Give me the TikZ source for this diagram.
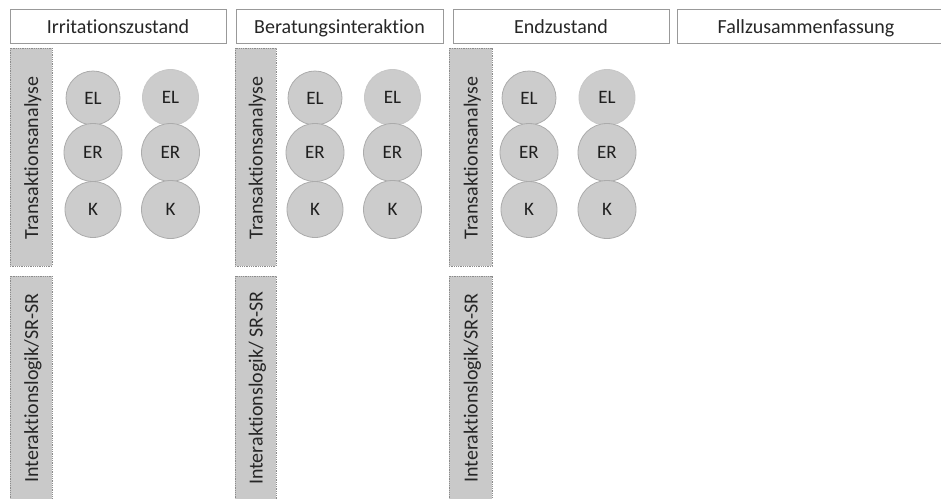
\documentclass[tikz,border=0pt]{standalone}
\usepackage{fontspec}
\setmainfont{Carlito}[Ligatures={NoCommon}]
\begin{document}
\begin{tikzpicture}[x=1pt,y=-1pt,
  hdr/.style={draw=black!40,line width=0.8pt,fill=white},
  hdrtext/.style={anchor=base,inner sep=0pt,text=black!85,font=\fontsize{20}{22}\selectfont},
  bar/.style={draw=black!45,densely dotted,line width=0.8pt,fill=black!21},
  bartext/.style={rotate=90,inner sep=0pt,text depth=0pt,text height=14pt,text=black!85,font=\fontsize{20}{22}\selectfont},
  ego/.style={circle,draw=black!33,line width=0.8pt,fill=black!20,text=black!88,inner sep=0pt,font=\fontsize{19}{21}\selectfont},
  egob/.style={ego,draw=black!22,fill=black!20}]
\useasboundingbox (0,0) rectangle (941,498);
\clip (0,0) rectangle (941,498);
% headers
\draw[hdr] (10,9) rectangle (226,43);
\draw[hdr] (236,9) rectangle (443,43);
\draw[hdr] (453,9) rectangle (669,43);
\draw[hdr] (677,9) rectangle (965,43);
\node[hdrtext] (h1) at (118,33) {Irritationszustand};
\node[hdrtext] (h2) at (339.5,33) {Beratungsinteraktion};
\node[hdrtext] (h3) at (561,33) {Endzustand};
\node[hdrtext] (h4) at (806,33) {Fallzusammenfassung};
% bars
\foreach \xa/\xb/\n/\lab in {10/52/1/{Interaktionslogik/SR-SR},235/276/2/{Interaktionslogik/ SR-SR},449/492/3/{Interaktionslogik/SR-SR}}{
  \draw[bar] (\xa,48) rectangle (\xb,266);
  \node[bartext] (ta\n) at ({(\xa+\xb)/2},158) {Transaktionsanalyse};
  \draw[bar] (\xa,276) rectangle (\xb,512);
  \node[bartext] (il\n) at ({(\xa+\xb)/2},388) {\lab};
}
% circles
\foreach \xa/\xb/\n in {93/170.5/1,315/392.5/2,529/607/3}{
  \node[ego,minimum size=54pt] (ela\n) at (\xa,98) {EL};
  \node[ego,minimum size=58pt] (era\n) at (\xa,152.5) {ER};
  \node[ego,minimum size=56pt] (ka\n) at (\xa,209.5) {K};
  \node[egob,minimum size=56pt] (elb\n) at (\xb,97.5) {EL};
  \node[ego,minimum size=58pt] (erb\n) at (\xb,152.5) {ER};
  \node[ego,minimum size=58pt] (kb\n) at (\xb,209.5) {K};
}
\end{tikzpicture}
\end{document}
